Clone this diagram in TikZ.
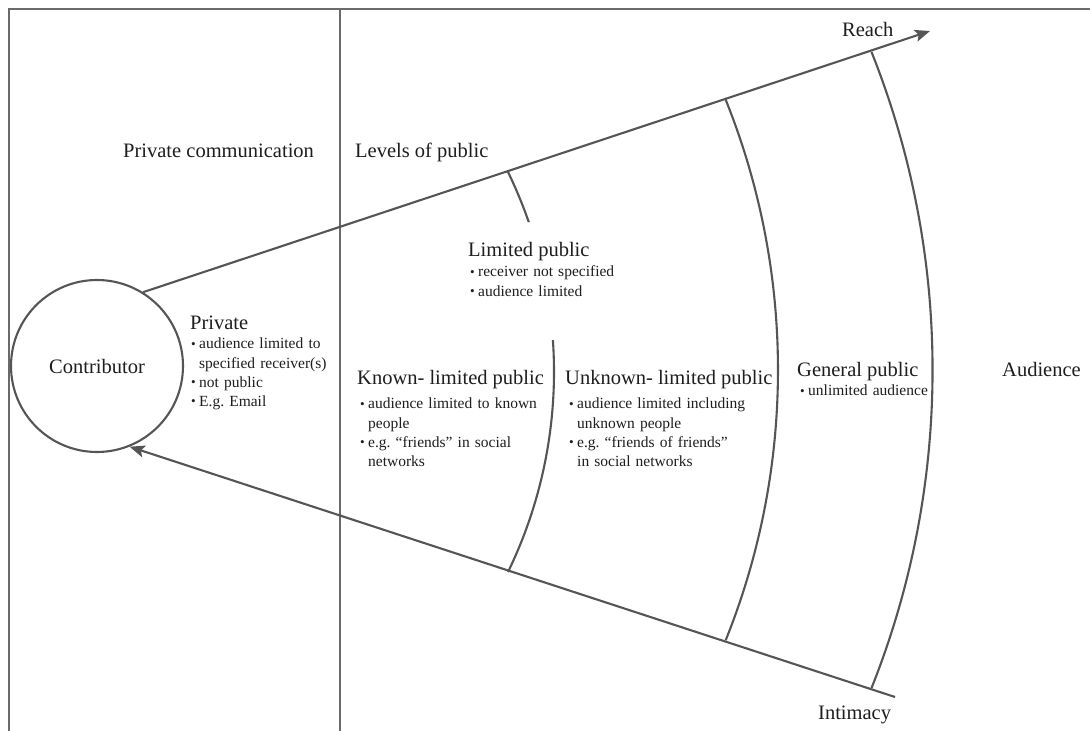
\documentclass[tikz,border=0pt]{standalone}
\usepackage{fontspec}
\usepackage{graphicx}
\setmainfont{Liberation Serif}
\usetikzlibrary{arrows.meta}
\definecolor{ln}{HTML}{555555}
\definecolor{fr}{HTML}{6A6A6A}
\definecolor{tx}{HTML}{1E1E1E}
\newcommand{\bul}{\makebox[8pt][l]{\raisebox{0.8pt}{\scalebox{0.85}{\textbullet}}}}
\newcommand{\ind}{\hspace*{8pt}}
\frenchspacing
\begin{document}
\begin{tikzpicture}[x=1pt,y=1pt,
  headtxt/.style={anchor=base west, inner sep=0pt, text=tx, font=\fontsize{20.5}{24}\selectfont},
  blist/.style={anchor=base west, inner sep=0pt, text=tx, text width=260pt, align=left, font=\fontsize{15.5}{19.2}\selectfont},
  frameline/.style={draw=fr, line width=1.6pt},
  arcline/.style={draw=ln, line width=2.1pt},
  arrline/.style={arcline, -{Stealth[length=15pt,width=12pt,inset=3pt]}}]
\fill[white] (0,0) rectangle (1090,731);
\useasboundingbox (0,0) rectangle (1090,731);
% frame
\draw[frameline] (9,0) -- (9,722) -- (1090,722);
\draw[frameline] (340,722) -- (340,0);
% contributor
\node[circle, draw=ln, line width=2.1pt, minimum size=172pt, inner sep=0pt, text=tx,
      font=\fontsize{20.5}{24}\selectfont] (c) at (97,365) {Contributor};
\coordinate (reachtip) at (930,700);
\coordinate (intend) at (895,34);
\draw[arrline] (c.58) -- (reachtip);
\draw[arrline] (intend) -- (c.-68);
% arcs
\draw[arcline] (96,359) ++(25.9:458) arc[start angle=25.9, end angle=19.1, radius=458];
\draw[arcline] (96,359) ++(4.0:458) arc[start angle=4.0, end angle=-25.9, radius=458];
\draw[arcline] (53.5,361) ++(22.05:724.5) arc[start angle=22.05, end angle=-21.9, radius=724.5];
\draw[arcline] (73.6,361) ++(21.73:859) arc[start angle=21.73, end angle=-21.73, radius=859];
% labels
\node[headtxt] (pc) at (123,573) {Private communication};
\node[headtxt] (lp) at (355,573) {Levels of public};
\node[headtxt] (reach) at (842,694) {Reach};
\node[headtxt] (intim) at (818,11) {Intimacy};
\node[headtxt] (aud) at (1002,354) {Audience};
\node[headtxt] (priv) at (190,401) {Private};
\node[blist] (privl) at (191,382) {\bul audience limited to\\\ind specified receiver(s)\\\bul not public\\\bul E.g. Email};
\node[headtxt] (lim) at (468,474) {Limited public};
\node[blist] (liml) at (470,454) {\bul receiver not specified\\\bul audience limited};
\node[headtxt] (known) at (357,346) {Known- limited public};
\node[blist] (knownl) at (360,322) {\bul audience limited to known\\\ind people\\\bul e.g. ``friends'' in social\\\ind networks};
\node[headtxt] (unk) at (565,346) {Unknown- limited public};
\node[blist] (unkl) at (569,322) {\bul audience limited including\\\ind unknown people\\\bul e.g. ``friends of friends''\\\ind in social networks};
\node[headtxt] (gen) at (797,354) {General public};
\node[blist] (genl) at (800,335) {\bul unlimited audience};
\end{tikzpicture}
\end{document}
